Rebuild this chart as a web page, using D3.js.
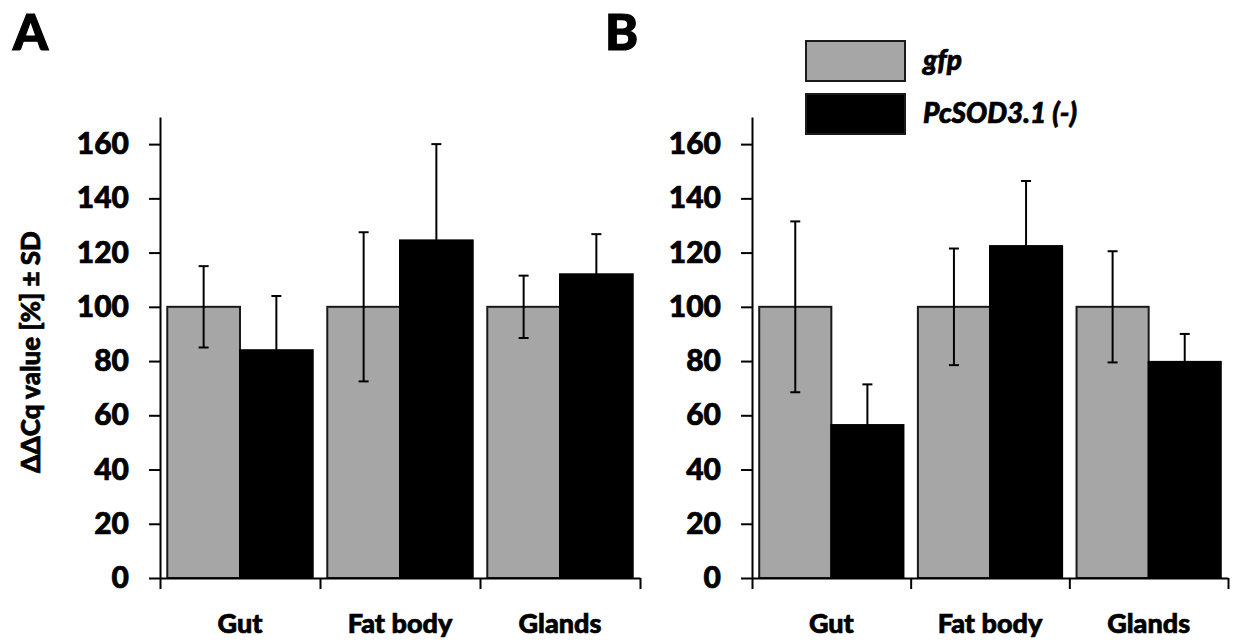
<html>
<head>
  <script src="https://d3js.org/d3.v7.min.js"></script>
  <style>
    body { margin: 0; background: #fff; }
    text { font-family: Lato, "Open Sans", sans-serif; font-weight: 900; fill: #000; stroke: #000; stroke-width: 0.7px; }
    .axis path, .axis line { stroke: #000; stroke-width: 2px; }
    .errbar { stroke: #000; stroke-width: 2px; }
  </style>
</head>
<body>
  <svg id="chart" width="1233" height="643"></svg>
  <script>
    // data
    const categories = ["Gut", "Fat body", "Glands"];
    const series = ["gfp", "PcSOD3.1 (-)"];
    const colors = ["#a6a6a6", "#000000"];
    const yTicks = [0, 20, 40, 60, 80, 100, 120, 140, 160];

    const panelA_gfp = [100, 100, 100];
    const panelA_gfpSD = [15, 27.5, 11.5];
    const panelA_sod = [84, 124.5, 112];
    const panelA_sodSD = [20, 35.5, 14.8];

    const panelB_gfp = [100, 100, 100];
    const panelB_gfpSD = [31.5, 21.5, 20.5];
    const panelB_sod = [56.4, 122.4, 79.7];
    const panelB_sodSD = [15, 24, 10.3];

    const svg = d3.select("#chart");
    const plotTop = 117, plotBottom = 578;

    const y = d3.scaleLinear().domain([0, 170]).range([plotBottom, plotTop]);

    function drawPanel(letter, left, width, means, sds) {
      const g = svg.append("g").attr("transform", `translate(${left},0)`);

      const x0 = d3.scaleBand().domain(categories).range([0, width]).padding(0);
      const x1 = d3.scaleBand().domain(series).range([0, x0.bandwidth()])
        .paddingInner(0).paddingOuter(0.1);

      // bars
      categories.forEach((c, i) => {
        series.forEach((s, j) => {
          g.append("rect")
            .attr("x", x0(c) + x1(s))
            .attr("y", y(means[j][i]))
            .attr("width", x1.bandwidth())
            .attr("height", y(0) - y(means[j][i]))
            .attr("fill", colors[j])
            .attr("stroke", j == 0 ? "#1a1a1a" : "#000")
            .attr("stroke-width", 2);
        });
      });

      // error bars
      const cap = 5;
      categories.forEach((c, i) => {
        series.forEach((s, j) => {
          const cx = x0(c) + x1(s) + x1.bandwidth() / 2;
          const hi = y(means[j][i] + sds[j][i]);
          const lo = y(means[j][i] - sds[j][i]);
          g.append("line").attr("class", "errbar")
            .attr("x1", cx).attr("x2", cx).attr("y1", hi).attr("y2", lo);
          g.append("line").attr("class", "errbar")
            .attr("x1", cx - cap).attr("x2", cx + cap).attr("y1", hi).attr("y2", hi);
          g.append("line").attr("class", "errbar")
            .attr("x1", cx - cap).attr("x2", cx + cap).attr("y1", lo).attr("y2", lo);
        });
      });

      // y axis
      const yAxis = d3.axisLeft(y).tickValues(yTicks).tickSize(11).tickSizeOuter(0).tickPadding(20);
      const ya = g.append("g").attr("class", "axis").call(yAxis);
      ya.selectAll("text").style("font-size", "30px");

      // x axis: ticks at category borders
      const xb = d3.scaleLinear().domain([0, categories.length]).range([0, width]);
      const xAxis = d3.axisBottom(xb).tickValues(d3.range(categories.length + 1))
        .tickSize(11).tickSizeOuter(0).tickFormat("");
      g.append("g").attr("class", "axis")
        .attr("transform", `translate(0,${plotBottom})`).call(xAxis);

      g.selectAll("text.cat").data(categories).join("text")
        .attr("class", "cat")
        .attr("x", d => x0(d) + x0.bandwidth() / 2)
        .attr("y", 633)
        .attr("text-anchor", "middle")
        .style("font-size", "27px")
        .text(d => d);

      svg.append("text")
        .attr("x", left - 147)
        .attr("y", 50)
        .style("font-size", "50px")
        .style("stroke-width", "1.2px")
        .text(letter);
    }

    drawPanel("A", 160, 480, [panelA_gfp, panelA_sod], [panelA_gfpSD, panelA_sodSD]);
    drawPanel("B", 752, 476, [panelB_gfp, panelB_sod], [panelB_gfpSD, panelB_sodSD]);

    // y label
    svg.append("text")
      .attr("transform", "translate(40,352) rotate(-90)")
      .attr("text-anchor", "middle")
      .style("font-size", "26px")
      .text("ΔΔCq value [%] ± SD");

    // legend
    const legend = svg.append("g").attr("transform", "translate(806,41)");
    series.forEach((s, i) => {
      legend.append("rect")
        .attr("x", 0).attr("y", i * 53)
        .attr("width", 99).attr("height", 40)
        .attr("fill", colors[i])
        .attr("stroke", "#1a1a1a").attr("stroke-width", 2);
      legend.append("text")
        .attr("x", 117).attr("y", i * 53 + 29)
        .style("font-size", "28px")
        .style("font-style", "italic")
        .text(s);
    });
  </script>
</body>
</html>
